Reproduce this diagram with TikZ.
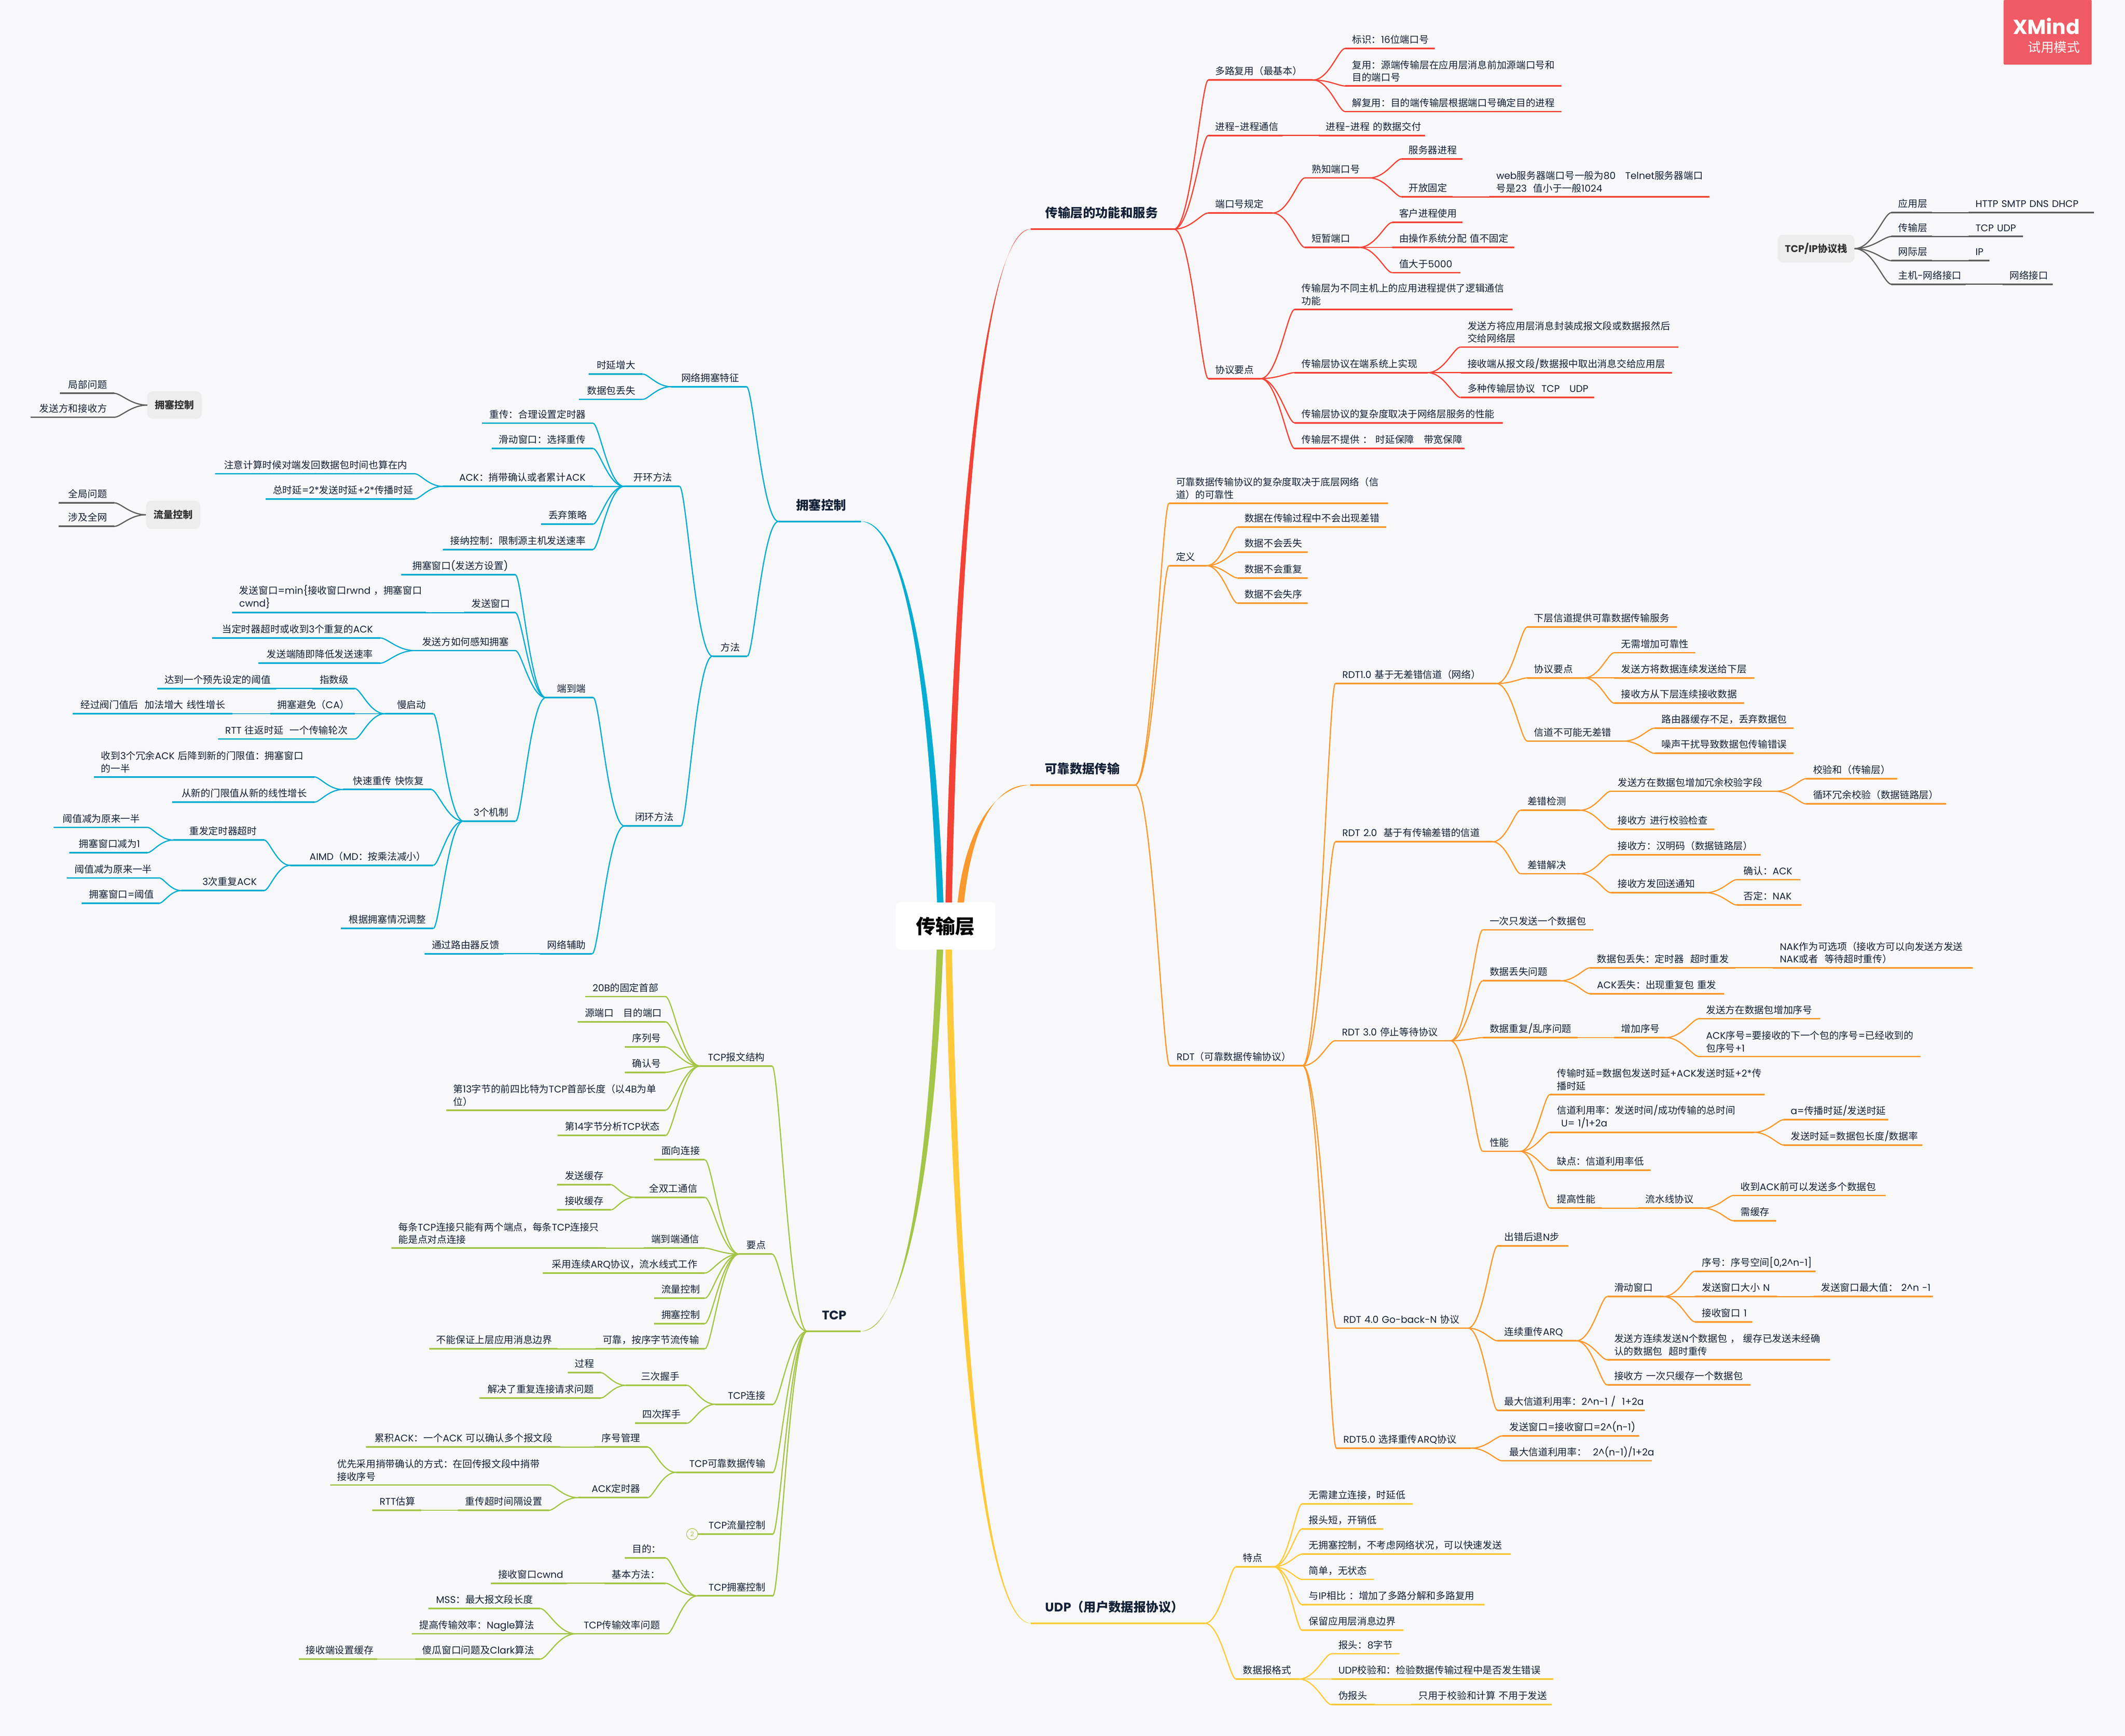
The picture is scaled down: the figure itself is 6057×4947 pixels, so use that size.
\documentclass[tikz,border=0pt]{standalone}
\usepackage{fontspec}
\setmainfont{Poppins}
\newfontfamily\cjkf{Noto Sans CJK SC}
\usetikzlibrary{calc}
\exhyphenpenalty=10000
\hyphenpenalty=10000
\makeatletter
\newXeTeXintercharclass\cjkclass
\XeTeXinterchartokenstate=1
\@tempcnta="3000 \loop\ifnum\@tempcnta<"3040 \XeTeXcharclass\@tempcnta=\cjkclass \advance\@tempcnta by 1 \repeat
\@tempcnta="4E00 \loop\ifnum\@tempcnta<"A000 \XeTeXcharclass\@tempcnta=\cjkclass \advance\@tempcnta by 1 \repeat
\@tempcnta="FF00 \loop\ifnum\@tempcnta<"FFF0 \XeTeXcharclass\@tempcnta=\cjkclass \advance\@tempcnta by 1 \repeat
\makeatother
\XeTeXinterchartoks 0 \cjkclass = {\cjkf}
\XeTeXinterchartoks 4095 \cjkclass = {\cjkf}
\XeTeXinterchartoks \cjkclass 0 = {\rmfamily}
\XeTeXinterchartoks \cjkclass 4095 = {\rmfamily}
\definecolor{bgc}{HTML}{F8F8FA}
\definecolor{navy}{HTML}{142238}
\definecolor{brR}{HTML}{F44336}
\definecolor{brO}{HTML}{FB982E}
\definecolor{brY}{HTML}{FFC93A}
\definecolor{brG}{HTML}{A3C548}
\definecolor{brB}{HTML}{06ACD2}
\definecolor{brK}{HTML}{5F5F5F}
\definecolor{boxg}{HTML}{EDEDED}
\definecolor{xm}{HTML}{F05A64}
\def\cc{brR}
\tikzset{
 topic/.style={inner ysep=3.75pt,outer sep=0pt,text depth=0pt,text=navy,anchor=south west,font=\fontsize{6.875pt}{9pt}\selectfont},
 mtopic/.style={inner ysep=8.25pt,inner xsep=10.5pt,outer sep=0pt,text depth=0pt,text=navy,anchor=south west,font=\fontsize{8.9pt}{11pt}\selectfont\bfseries},
 uline/.style={line width=1.15pt},
 conn/.style={line width=.85pt},
 gbox/.style={fill=boxg,rounded corners=4pt,text=black!80,font=\fontsize{7pt}{9pt}\selectfont\bfseries,outer sep=0pt,inner sep=0pt},
}
% right-side topic
\newcommand\RN[5]{\pgfmathsetlengthmacro\tw{(#3-#2)*0.25pt-10pt}%
 \node[topic,inner xsep=5pt,align=left,text width=\tw] (#1) at (#2,#4) {#5};
 \draw[uline,color=\cc] (#1.south west) -- (#1.south east);}
% multi-line topic, left-aligned
\newcommand\RM[5]{\pgfmathsetlengthmacro\tw{(#3-#2)*0.25pt-10pt}%
 \node[topic,inner xsep=5pt,inner ysep=2.9pt,text depth=,align=left,text width=\tw] (#1) at (#2,#4) {#5};
 \draw[uline,color=\cc] (#1.south west) -- (#1.south east);}
% left-side topic, right-aligned
\newcommand\LN[5]{\pgfmathsetlengthmacro\tw{(#3-#2)*0.25pt-10.5pt}%
 \node[topic,inner xsep=5.25pt,align=right,text width=\tw] (#1) at (#2,#4) {#5};
 \draw[uline,color=\cc] (#1.south west) -- (#1.south east);}
% main topic
\newcommand\MN[6]{\pgfmathsetlengthmacro\tw{(#4-#3)*0.25pt-21pt}%
 \node[mtopic,align=#1,text width=\tw] (#2) at (#3,#5) {#6};
 \draw[uline,color=\cc] (#2.south west) -- (#2.south east);}
% connector curve
\newcommand\Cv[2]{\draw[conn,color=\cc] let \p1=(#1),\p2=(#2) in (\p1) .. controls ({\x1+.5*(\x2-\x1)},\y1) and ({\x1+.8*(\x2-\x1)},\y2) .. (\p2);}
\newcommand\RC[2]{\foreach \k in {#2}{\Cv{#1.south east}{\k.south west}}}
\newcommand\LC[2]{\foreach \k in {#2}{\Cv{#1.south west}{\k.south east}}}
% tapered main branch: start coordinate, end anchor, colour
\newcommand\MB[3]{\fill[#3] let \p1=(#1),\p2=(#2),\n1={\x2-\x1},\n2={\y2-\y1} in
 ({\x1-2.3pt},\y1) .. controls ({\x1+.11*\n1-2.3pt},{\y1+.61*\n2}) and ({\x2-.53*\n1},{\y2-1.5pt}) .. (\p2)
 .. controls ({\x2-.53*\n1},{\y2+1.5pt}) and ({\x1+.11*\n1+2.3pt},{\y1+.61*\n2}) .. ({\x1+2.3pt},\y1) -- cycle;}
\begin{document}
\begin{tikzpicture}[x=.25pt,y=-.25pt]
\useasboundingbox (0,0) rectangle (6057,4947);
\fill[bgc] (0,0) rectangle (6057,4947);
% centre
\node[fill=white,rounded corners=3pt,minimum width=71pt,minimum height=33.5pt,inner sep=0pt,outer sep=0pt,text=black,font=\fontsize{14pt}{16pt}\selectfont\bfseries] (root) at (2695,2639) {传输层};
\path (root.north) ++(-15,0) coordinate (sB);
\path (root.north) ++(9,0) coordinate (sR);
\path (root.north) ++(43.5,0) coordinate (sO);
\path (root.south) ++(-16,0) coordinate (sG);
\path (root.south) ++(9,0) coordinate (sY);

% ---------- RED
\def\cc{brR}
\MN{left}{r0}{2938}{3346}{653}{传输层的功能和服务}
\RN{r1}{3444}{3742}{228}{多路复用（最基本）}
\RN{r11}{3834}{4090}{138}{标识：16位端口号}
\RM{r12}{3834}{4451}{245}{复用：源端传输层在应用层消息前加源端口号和\\目的端口号}
\RN{r13}{3834}{4451}{318}{解复用：目的端传输层根据端口号确定目的进程}
\RN{r2}{3444}{3656}{386}{进程-进程通信}
\RN{r21}{3759}{4062}{386}{进程-进程~的数据交付}
\RN{r3}{3444}{3627}{607}{端口号规定}
\RN{r31}{3719}{3903}{507}{熟知端口号}
\RN{r311}{3995}{4168}{453}{服务器进程}
\RN{r312}{3995}{4141}{561}{开放固定}
\RM{r313}{4245}{4872}{561}{web服务器端口号一般为80~~~Telnet服务器端口\\号是23~~值小于一般1024}
\RN{r32}{3719}{3874}{705}{短暂端口}
\RN{r321}{3968}{4168}{634}{客户进程使用}
\RN{r322}{3968}{4316}{705}{由操作系统分配~值不固定}
\RN{r323}{3968}{4162}{777}{值大于5000}
\RN{r4}{3444}{3593}{1079}{协议要点}
\RM{r41}{3690}{4311}{882}{传输层为不同主机上的应用进程提供了逻辑通信\\功能}
\RN{r42}{3690}{4069}{1062}{传输层协议在端系统上实现}
\RM{r421}{4163}{4784}{989}{发送方将应用层消息封装成报文段或数据报然后\\交给网络层}
\RN{r422}{4163}{4766}{1062}{接收端从报文段/数据报中取出消息交给应用层}
\RN{r423}{4163}{4544}{1133}{多种传输层协议~~TCP~~~UDP}
\RN{r43}{3690}{4284}{1205}{传输层协议的复杂度取决于网络层服务的性能}
\RN{r44}{3690}{4174}{1278}{传输层不提供~：~时延保障~~~带宽保障}
\MB{sR}{r0.south west}{brR}
\RC{r0}{r1,r2,r3,r4}
\RC{r1}{r11,r12,r13}
\RC{r2}{r21}
\RC{r3}{r31,r32}
\RC{r31}{r311,r312}
\RC{r312}{r313}
\RC{r32}{r321,r322,r323}
\RC{r4}{r41,r42,r43,r44}
\RC{r42}{r421,r422,r423}

% ---------- ORANGE
\def\cc{brO}
\MN{left}{o0}{2936}{3235}{2237}{可靠数据传输}
\RM{o1}{3332}{3956}{1434}{可靠数据传输协议的复杂度取决于底层网络（信\\道）的可靠性}
\RN{o2}{3332}{3439}{1612}{定义}
\RN{o21}{3527}{3951}{1502}{数据在传输过程中不会出现差错}
\RN{o22}{3527}{3727}{1574}{数据不会丢失}
\RN{o23}{3527}{3727}{1647}{数据不会重复}
\RN{o24}{3527}{3727}{1719}{数据不会失序}
\RN{o3}{3334}{3713}{3037}{RDT（可靠数据传输协议）}
\RN{a}{3806}{4265}{1948}{RDT1.0~基于无差错信道（网络）}
\RN{a1}{4353}{4780}{1787}{下层信道提供可靠数据传输服务}
\RN{a2}{4353}{4515}{1932}{协议要点}
\RN{a21}{4601}{4832}{1860}{无需增加可靠性}
\RN{a22}{4601}{5000}{1932}{发送方将数据连续发送给下层}
\RN{a23}{4601}{4972}{2004}{接收方从下层连续接收数据}
\RN{a3}{4353}{4628}{2112}{信道不可能无差错}
\RN{a31}{4716}{5112}{2075}{路由器缓存不足，丢弃数据包}
\RN{a32}{4716}{5112}{2147}{噪声干扰导致数据包传输错误}
\RN{b}{3806}{4254}{2399}{RDT~2.0~~基于有传输差错的信道}
\RN{b1}{4334}{4503}{2309}{差错检测}
\RN{b11}{4591}{5060}{2255}{发送方在数据包增加冗余校验字段}
\RN{b111}{5148}{5408}{2219}{校验和（传输层）}
\RN{b112}{5148}{5547}{2291}{循环冗余校验（数据链路层）}
\RN{b12}{4591}{4887}{2363}{接收方~进行校验检查}
\RN{b2}{4334}{4503}{2490}{差错解决}
\RN{b21}{4591}{5019}{2436}{接收方：汉明码（数据链路层）}
\RN{b22}{4591}{4862}{2544}{接收方发回送通知}
\RN{b221}{4950}{5132}{2507}{确认：ACK}
\RN{b222}{4950}{5135}{2579}{否定：NAK}
\RN{c}{3805}{4134}{2966}{RDT~3.0~停止等待协议}
\RN{c1}{4226}{4542}{2650}{一次只发送一个数据包}
\RN{c2}{4226}{4448}{2795}{数据丢失问题}
\RN{c21}{4532}{4946}{2758}{数据包丢失：定时器~~超时重发}
\RM{c211}{5053}{5623}{2758}{NAK作为可选项（接收方可以向发送方发送\\NAK或者~~等待超时重传）}
\RN{c22}{4532}{4914}{2832}{ACK丢失：出现重复包~重发}
\RN{c3}{4226}{4497}{2957}{数据重复/乱序问题}
\RN{c31}{4601}{4747}{2957}{增加序号}
\RN{c311}{4843}{5188}{2903}{发送方在数据包增加序号}
\RM{c312}{4843}{5474}{3011}{ACK序号=要接收的下一个包的序号=已经收到的\\包序号+1}
\RN{c4}{4226}{4333}{3281}{性能}
\RM{c41}{4418}{5030}{3119}{传输时延=数据包发送时延+ACK发送时延+2*传\\播时延}
\RM{c42}{4418}{4999}{3227}{信道利用率：发送时间/成功传输的总时间\\\hspace*{3pt}U=~1/1+2a}
\RN{c421}{5084}{5382}{3191}{a=传播时延/发送时延}
\RN{c422}{5084}{5479}{3263}{发送时延=数据包长度/数据率}
\RN{c43}{4418}{4705}{3335}{缺点：信道利用率低}
\RN{c44}{4418}{4566}{3443}{提高性能}
\RN{c441}{4670}{4854}{3443}{流水线协议}
\RN{c4411}{4941}{5375}{3407}{收到ACK前可以发送多个数据包}
\RN{c4412}{4941}{5062}{3479}{需缓存}
\RN{d}{3809}{4184}{3785}{RDT~4.0~Go-back-N~协议}
\RN{d1}{4268}{4470}{3551}{出错后退N步}
\RN{d2}{4268}{4493}{3821}{连续重传ARQ}
\RN{d21}{4581}{4741}{3695}{滑动窗口}
\RN{d211}{4831}{5175}{3623}{序号：序号空间[0,2\textasciicircum n-1]}
\RN{d212}{4831}{5065}{3695}{发送窗口大小~N}
\RN{d2121}{5170}{5509}{3695}{发送窗口最大值：~2\textasciicircum n~-1}
\RN{d213}{4831}{4995}{3767}{接收窗口~1}
\RM{d22}{4581}{5216}{3875}{发送方连续发送N个数据包~，~缓存已发送未经确\\认的数据包~~超时重传}
\RN{d23}{4581}{4990}{3947}{接收方~一次只缓存一个数据包}
\RN{d3}{4268}{4688}{4019}{最大信道利用率：2\textasciicircum n-1~/~~1+2a}
\RN{e}{3809}{4193}{4127}{RDT5.0~选择重传ARQ协议}
\RN{e1}{4282}{4672}{4092}{发送窗口=接收窗口=2\textasciicircum(n-1)}
\RN{e2}{4282}{4709}{4163}{最大信道利用率：~~2\textasciicircum(n-1)/1+2a}
\MB{sO}{o0.south west}{brO}
\RC{o0}{o1,o2,o3}
\RC{o2}{o21,o22,o23,o24}
\RC{o3}{a,b,c,d,e}
\RC{a}{a1,a2,a3}
\RC{a2}{a21,a22,a23}
\RC{a3}{a31,a32}
\RC{b}{b1,b2}
\RC{b1}{b11,b12}
\RC{b11}{b111,b112}
\RC{b2}{b21,b22}
\RC{b22}{b221,b222}
\RC{c}{c1,c2,c3,c4}
\RC{c2}{c21,c22}
\RC{c21}{c211}
\RC{c3}{c31}
\RC{c31}{c311,c312}
\RC{c4}{c41,c42,c43,c44}
\RC{c42}{c421,c422}
\RC{c44}{c441}
\RC{c441}{c4411,c4412}
\RC{d}{d1,d2,d3}
\RC{d2}{d21,d22,d23}
\RC{d21}{d211,d212,d213}
\RC{d212}{d2121}
\RC{e}{e1,e2}

% ---------- YELLOW
\def\cc{brY}
\MN{left}{y0}{2938}{3434}{4626}{UDP（用户数据报协议）}
\RN{y1}{3523}{3630}{4465}{特点}
\RN{y11}{3711}{4027}{4286}{无需建立连接，时延低}
\RN{y12}{3711}{3943}{4357}{报头短，开销低}
\RN{y13}{3711}{4307}{4429}{无拥塞控制，不考虑网络状况，可以快速发送}
\RN{y14}{3711}{3916}{4501}{简单，无状态}
\RN{y15}{3711}{4231}{4573}{与IP相比~：增加了多路分解和多路复用}
\RN{y16}{3711}{4000}{4646}{保留应用层消息边界}
\RN{y2}{3523}{3702}{4785}{数据报格式}
\RN{y21}{3795}{3989}{4713}{报头：8字节}
\RN{y22}{3795}{4427}{4785}{UDP校验和：检验数据传输过程中是否发生错误}
\RN{y23}{3795}{3920}{4858}{伪报头}
\RN{y231}{4023}{4423}{4858}{只用于校验和计算~不用于发送}
\MB{sY}{y0.south west}{brY}
\RC{y0}{y1,y2}
\RC{y1}{y11,y12,y13,y14,y15,y16}
\RC{y2}{y21,y22,y23}
\RC{y23}{y231}

% ---------- BLUE
\def\cc{brB}
\MN{right}{u0}{2219}{2454}{1486}{拥塞控制}
\LN{u1}{1913}{2128}{1102}{网络拥塞特征}
\LN{u11}{1678}{1832}{1066}{时延增大}
\LN{u12}{1650}{1832}{1138}{数据包丢失}
\LN{u2}{2031}{2130}{1870}{方法}
\LN{k}{1779}{1937}{1386}{开环方法}
\LN{k1}{1374}{1690}{1206}{重传：合理设置定时器}
\LN{k2}{1401}{1690}{1278}{滑动窗口：选择重传}
\LN{k3}{1262}{1690}{1386}{ACK：捎带确认或者累计ACK}
\LN{k31}{613}{1182}{1350}{注意计算时候对端发回数据包时间也算在内}
\LN{k32}{757}{1182}{1422}{总时延=2*发送时延+2*传播时延}
\LN{k4}{1542}{1690}{1494}{丢弃策略}
\LN{k5}{1262}{1690}{1566}{接纳控制：限制源主机发送速率}
\LN{m}{1780}{1941}{2354}{闭环方法}
\LN{n}{1556}{1691}{1988}{端到端}
\LN{n1}{1144}{1469}{1638}{拥塞窗口(发送方设置)}
\LN{n2}{1323}{1469}{1746}{发送窗口}
\RM{n21}{662}{1214}{1746}{发送窗口=min\{接收窗口rwnd~，拥塞窗口\\cwnd\}}
\LN{n3}{1182}{1469}{1854}{发送方如何感知拥塞}
\LN{n31}{605}{1084}{1818}{当定时器超时或收到3个重复的ACK}
\LN{n32}{737}{1084}{1890}{发送端随即降低发送速率}
\LN{p}{1321}{1470}{2340}{3个机制}
\LN{p1}{1097}{1235}{2034}{慢启动}
\LN{p11}{890}{1011}{1962}{指数级}
\LN{p111}{448}{787}{1962}{达到一个预先设定的阈值}
\LN{p12}{770}{1011}{2034}{拥塞避免（CA）}
\LN{p121}{207}{663}{2034}{经过阀门值后~~加法增大~线性增长}
\LN{p13}{621}{1011}{2106}{RTT~往返时延~~一个传输轮次}
\LN{p2}{977}{1229}{2250}{快速重传~快恢复}
\RM{p21}{268}{896}{2214}{收到3个冗余ACK~后降到新的门限值：拥塞窗口\\的一半}
\LN{p22}{491}{896}{2286}{从新的门限值从新的线性增长}
\LN{p3}{827}{1235}{2466}{AIMD（MD：按乘法减小）}
\LN{p31}{494}{753}{2394}{重发定时器超时}
\LN{p311}{153}{420}{2358}{阈值减为原来一半}
\LN{p312}{198}{420}{2430}{拥塞窗口减为1}
\LN{p32}{517}{753}{2538}{3次重复ACK}
\LN{p321}{190}{454}{2502}{阈值减为原来一半}
\LN{p322}{233}{454}{2574}{拥塞窗口=阈值}
\LN{p4}{972}{1235}{2646}{根据拥塞情况调整}
\LN{q}{1539}{1688}{2718}{网络辅助}
\LN{q1}{1210}{1436}{2718}{通过路由器反馈}
\MB{sB}{u0.south east}{brB}
\LC{u0}{u1,u2}
\LC{u1}{u11,u12}
\LC{u2}{k,m}
\LC{k}{k1,k2,k3,k4,k5}
\LC{k3}{k31,k32}
\LC{m}{n,q}
\LC{n}{n1,n2,n3,p}
\LC{n2}{n21}
\LC{n3}{n31,n32}
\LC{p}{p1,p2,p3,p4}
\LC{p1}{p11,p12,p13}
\LC{p11}{p111}
\LC{p12}{p121}
\LC{p2}{p21,p22}
\LC{p3}{p31,p32}
\LC{p31}{p311,p312}
\LC{p32}{p321,p322}
\LC{q}{q1}

% ---------- GREEN
\def\cc{brG}
\MN{right}{g0}{2301}{2453}{3794}{TCP}
\LN{g1}{1996}{2201}{3038}{TCP报文结构}
\LN{g11}{1668}{1897}{2840}{20B的固定首部}
\LN{g12}{1646}{1897}{2912}{源端口~~~目的端口}
\LN{g13}{1781}{1897}{2984}{序列号}
\LN{g14}{1781}{1897}{3056}{确认号}
\RM{g15}{1272}{1897}{3164}{第13字节的前四比特为TCP首部长度（以4B为单\\位）}
\LN{g16}{1589}{1897}{3236}{第14字节分析TCP状态}
\LN{g2}{2107}{2201}{3574}{要点}
\LN{g21}{1864}{2009}{3305}{面向连接}
\LN{g22}{1808}{2009}{3412}{全双工通信}
\LN{g221}{1588}{1741}{3376}{发送缓存}
\LN{g222}{1588}{1741}{3448}{接收缓存}
\LN{g23}{1835}{2009}{3557}{端到端通信}
\RM{g231}{1116}{1728}{3557}{每条TCP连接只能有两个端点，每条TCP连接只\\能是点对点连接}
\LN{g24}{1547}{2009}{3628}{采用连续ARQ协议，流水线式工作}
\LN{g25}{1864}{2009}{3700}{流量控制}
\LN{g26}{1864}{2009}{3772}{拥塞控制}
\LN{g27}{1697}{2009}{3844}{可靠，按序字节流传输}
\LN{g271}{1223}{1589}{3844}{不能保证上层应用消息边界}
\LN{g3}{2039}{2203}{4002}{TCP连接}
\LN{g31}{1784}{1958}{3948}{三次握手}
\LN{g311}{1618}{1713}{3912}{过程}
\LN{g312}{1366}{1713}{3984}{解决了重复连接请求问题}
\LN{g32}{1810}{1958}{4056}{四次挥手}
\LN{g4}{1927}{2203}{4196}{TCP可靠数据传输}
\LN{g41}{1693}{1846}{4124}{序号管理}
\LN{g411}{1043}{1596}{4124}{累积ACK：一个ACK~可以确认多个报文段}
\LN{g42}{1647}{1846}{4268}{ACK定时器}
\RM{g421}{941}{1565}{4232}{优先采用捎带确认的方式：在回传报文段中捎带\\接收序号}
\LN{g422}{1305}{1565}{4304}{重传超时间隔设置}
\LN{g4221}{1061}{1200}{4304}{RTT估算}
\LN{g5}{1988}{2203}{4372}{TCP流量控制}
\node[circle,draw=brG,line width=.4pt,fill=bgc,minimum size=8pt,inner sep=0pt,text=brG,font=\fontsize{4.5pt}{5pt}\selectfont] (g5c) at (1973,4372) {2};
\LN{g6}{1988}{2203}{4548}{TCP拥塞控制}
\LN{g61}{1781}{1897}{4440}{目的：}
\LN{g62}{1723}{1897}{4512}{基本方法：}
\LN{g621}{1399}{1616}{4512}{接收窗口cwnd}
\LN{g63}{1642}{1902}{4656}{TCP传输效率问题}
\LN{g631}{1221}{1540}{4584}{MSS：最大报文段长度}
\LN{g632}{1174}{1540}{4656}{提高传输效率：Nagle算法}
\LN{g633}{1183}{1540}{4728}{傻瓜窗口问题及Clark算法}
\LN{g6331}{851}{1075}{4728}{接收端设置缓存}
\MB{sG}{g0.south east}{brG}
\LC{g0}{g1,g2,g3,g4,g5,g6}
\LC{g1}{g11,g12,g13,g14,g15,g16}
\LC{g2}{g21,g22,g23,g24,g25,g26,g27}
\LC{g22}{g221,g222}
\LC{g23}{g231}
\LC{g27}{g271}
\LC{g3}{g31,g32}
\LC{g31}{g311,g312}
\LC{g4}{g41,g42}
\LC{g41}{g411}
\LC{g42}{g421,g422}
\LC{g422}{g4221}
\LC{g6}{g61,g62,g63}
\LC{g62}{g621}
\LC{g63}{g631,g632,g633}
\LC{g633}{g6331}

% ---------- GREY floating topics
\def\cc{brK}
\node[gbox,minimum width=38.75pt,minimum height=19.75pt] (bx1) at (497.5,1154.5) {拥塞控制};
\LN{h1}{171}{326}{1121}{局部问题}
\LN{h2}{87}{326}{1189}{发送方和接收方}
\foreach \k in {h1,h2}{\Cv{bx1.west}{\k.south east}}
\node[gbox,minimum width=38.75pt,minimum height=20pt] (bx2) at (493.5,1467) {流量控制};
\LN{h3}{167}{326}{1433}{全局问题}
\LN{h4}{167}{326}{1500}{涉及全网}
\foreach \k in {h3,h4}{\Cv{bx2.west}{\k.south east}}
\node[gbox,minimum width=54.75pt,minimum height=19.75pt] (bx3) at (5176.5,708.5) {TCP/IP协议栈};
\RN{t1}{5391}{5507}{606}{应用层}
\RN{t11}{5611}{5969}{606}{HTTP~SMTP~DNS~DHCP}
\RN{t2}{5391}{5507}{674}{传输层}
\RN{t21}{5611}{5766}{674}{TCP~UDP}
\RN{t3}{5391}{5507}{743}{网际层}
\RN{t31}{5611}{5671}{743}{IP}
\RN{t4}{5391}{5603}{810}{主机-网络接口}
\RN{t41}{5708}{5851}{810}{网络接口}
\foreach \k in {t1,t2,t3,t4}{\Cv{bx3.east}{\k.south west}}
\RC{t1}{t11}
\RC{t2}{t21}
\RC{t3}{t31}
\RC{t4}{t41}

% ---------- XMind badge
\node[fill=xm,rounded corners=.5pt,minimum width=62.75pt,minimum height=46pt,inner sep=0pt,outer sep=0pt,anchor=north west] (xb) at (5711,0) {};
\node[anchor=base east,inner sep=0pt,text=white,font=\fontsize{14.5pt}{16pt}\selectfont\bfseries] (xt) at (5929,98) {XMind};
\node[anchor=base east,inner sep=0pt,text=white,font=\fontsize{9.25pt}{11pt}\selectfont] (xs) at (5929,148) {试用模式};
\end{tikzpicture}
\end{document}
